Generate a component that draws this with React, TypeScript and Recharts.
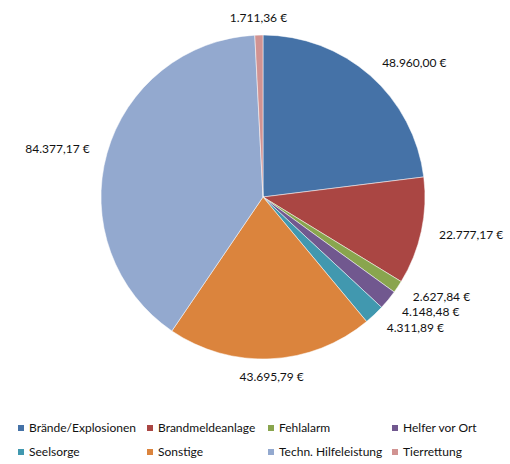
import React from "react";
import { PieChart, Pie, Cell, Legend } from "recharts";

const categories = [
  "Brände/Explosionen",
  "Brandmeldeanlage",
  "Fehlalarm",
  "Helfer vor Ort",
  "Seelsorge",
  "Sonstige",
  "Techn. Hilfeleistung",
  "Tierrettung",
];
const amounts = [48960.0, 22777.17, 2627.84, 4148.48, 4311.89, 43695.79, 84377.17, 1711.36];
const colors = ["#4572A7", "#AA4643", "#89A54E", "#71588F", "#4198AF", "#DB843D", "#93A9CF", "#D19392"];

const data = categories.map((name, i) => ({ name, value: amounts[i] }));

const FONT = "Lato, 'Open Sans', sans-serif";

function formatEuro(v: number): string {
  const fixed = v.toFixed(2);
  const [intPart, dec] = fixed.split(".");
  const withDots = intPart.replace(/\B(?=(\d{3})+(?!\d))/g, ".");
  return `${withDots},${dec} €`;
}

const RAD = Math.PI / 180;

const renderLabel = (props: any) => {
  const { cx, cy, midAngle, outerRadius, value } = props;
  const R = outerRadius + 18;
  const c = Math.cos(-midAngle * RAD);
  const s = Math.sin(-midAngle * RAD);
  const x = cx + R * c;
  const y = cy + R * s;
  const anchor = c > 0.3 ? "start" : c < -0.3 ? "end" : "middle";
  return (
    <text
      x={x}
      y={y}
      textAnchor={anchor}
      dominantBaseline="central"
      fill="#111"
      fontSize={12}
      fontFamily={FONT}
    >
      {formatEuro(value)}
    </text>
  );
};

const colWidths = [129, 121, 124, 110];

const renderLegend = () => (
  <div
    style={{
      display: "grid",
      gridTemplateColumns: colWidths.map((w) => `${w}px`).join(" "),
      rowGap: 8,
      fontFamily: FONT,
      fontSize: 12,
      color: "#111",
      lineHeight: "16px",
    }}
  >
    {categories.map((name, i) => (
      <div key={name} style={{ display: "flex", alignItems: "center", whiteSpace: "nowrap" }}>
        <span
          style={{
            display: "inline-block",
            width: 6,
            height: 6,
            background: colors[i],
            marginRight: 5,
          }}
        />
        <span>{name}</span>
      </div>
    ))}
  </div>
);

export default function App() {
  return (
    <div style={{ position: "absolute", left: 0, top: 0, width: 510, height: 464, background: "#fff" }}>
      <PieChart width={510} height={464} margin={{ top: 0, right: 0, bottom: 0, left: 0 }}>
        <Pie
          data={data}
          dataKey="value"
          nameKey="name"
          cx={263}
          cy={197}
          outerRadius={162}
          startAngle={90}
          endAngle={-270}
          stroke="#ffffff"
          strokeWidth={0.5}
          labelLine={false}
          label={renderLabel}
          isAnimationActive={false}
        >
          {data.map((d, i) => (
            <Cell key={d.name} fill={colors[i]} />
          ))}
        </Pie>
        <Legend
          content={renderLegend}
          wrapperStyle={{ position: "absolute", left: 18, top: 420, width: 490 }}
        />
      </PieChart>
    </div>
  );
}
